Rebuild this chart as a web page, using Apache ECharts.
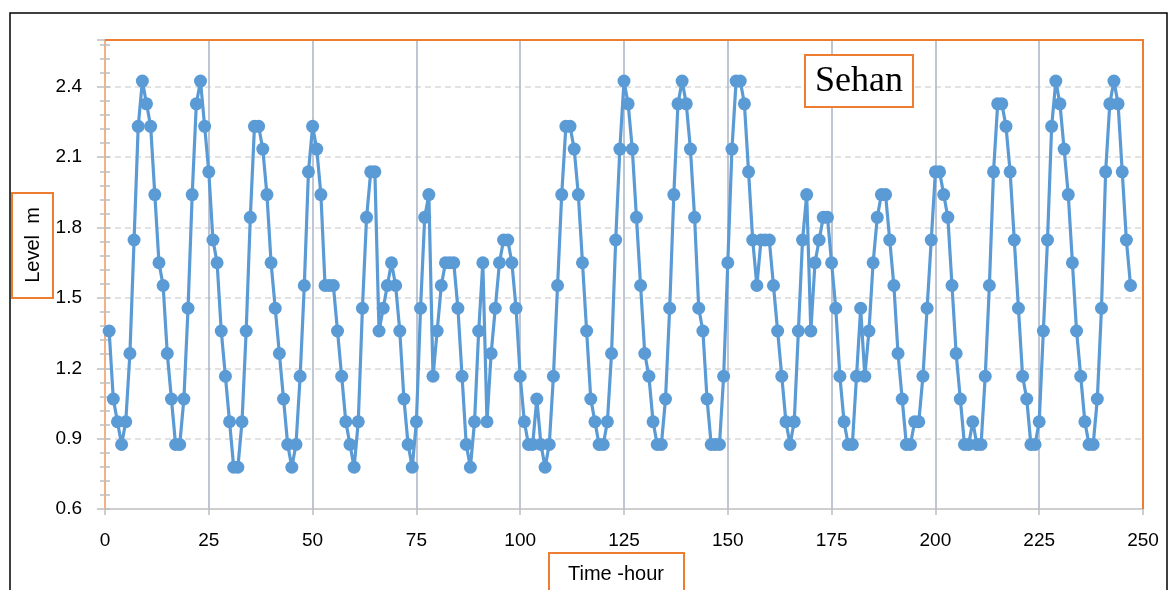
<!DOCTYPE html>
<html>
<head>
<meta charset="utf-8">
<script src="https://cdn.jsdelivr.net/npm/echarts@6/dist/echarts.min.js"></script>
<style>
html,body{margin:0;padding:0;background:#fff;}
#c{width:1176px;height:590px;}
</style>
</head>
<body>
<div id="c"></div>
<script>
// ---- data ----
var titleText = 'Sehan';
var xName = 'Time -hour';
var yName = 'Level  m';
var startHour = 1;            // first sample hour
var xTicks = [0, 25, 50, 75, 100, 125, 150, 175, 200, 225, 250];
var yTicks = [0.6, 0.9, 1.2, 1.5, 1.8, 2.1, 2.4];
// hourly water level (m), hours 1..247
var levels = [
  1.359, 1.069, 0.972, 0.875, 0.972, 1.263, 1.747, 2.232, 2.425, 2.328,
  2.232, 1.941, 1.650, 1.553, 1.263, 1.069, 0.875, 0.875, 1.069, 1.456,
  1.941, 2.328, 2.425, 2.232, 2.038, 1.747, 1.650, 1.359, 1.166, 0.972,
  0.778, 0.778, 0.972, 1.359, 1.844, 2.232, 2.232, 2.135, 1.941, 1.650,
  1.456, 1.263, 1.069, 0.875, 0.778, 0.875, 1.166, 1.553, 2.038, 2.232,
  2.135, 1.941, 1.553, 1.553, 1.553, 1.359, 1.166, 0.972, 0.875, 0.778,
  0.972, 1.456, 1.844, 2.038, 2.038, 1.359, 1.456, 1.553, 1.650, 1.553,
  1.359, 1.069, 0.875, 0.778, 0.972, 1.456, 1.844, 1.941, 1.166, 1.359,
  1.553, 1.650, 1.650, 1.650, 1.456, 1.166, 0.875, 0.778, 0.972, 1.359,
  1.650, 0.972, 1.263, 1.456, 1.650, 1.747, 1.747, 1.650, 1.456, 1.166,
  0.972, 0.875, 0.875, 1.069, 0.875, 0.778, 0.875, 1.166, 1.553, 1.941,
  2.232, 2.232, 2.135, 1.941, 1.650, 1.359, 1.069, 0.972, 0.875, 0.875,
  0.972, 1.263, 1.747, 2.135, 2.425, 2.328, 2.135, 1.844, 1.553, 1.263,
  1.166, 0.972, 0.875, 0.875, 1.069, 1.456, 1.941, 2.328, 2.425, 2.328,
  2.135, 1.844, 1.456, 1.359, 1.069, 0.875, 0.875, 0.875, 1.166, 1.650,
  2.135, 2.425, 2.425, 2.328, 2.038, 1.747, 1.553, 1.747, 1.747, 1.747,
  1.553, 1.359, 1.166, 0.972, 0.875, 0.972, 1.359, 1.747, 1.941, 1.359,
  1.650, 1.747, 1.844, 1.844, 1.650, 1.456, 1.166, 0.972, 0.875, 0.875,
  1.166, 1.456, 1.166, 1.359, 1.650, 1.844, 1.941, 1.941, 1.747, 1.553,
  1.263, 1.069, 0.875, 0.875, 0.972, 0.972, 1.166, 1.456, 1.747, 2.038,
  2.038, 1.941, 1.844, 1.553, 1.263, 1.069, 0.875, 0.875, 0.972, 0.875,
  0.875, 1.166, 1.553, 2.038, 2.328, 2.328, 2.232, 2.038, 1.747, 1.456,
  1.166, 1.069, 0.875, 0.875, 0.972, 1.359, 1.747, 2.232, 2.425, 2.328,
  2.135, 1.941, 1.650, 1.359, 1.166, 0.972, 0.875, 0.875, 1.069, 1.456,
  2.038, 2.328, 2.425, 2.328, 2.038, 1.747, 1.553
];

// ---- build ----
var seriesData = levels.map(function (v, i) { return [startHour + i, v]; });
var xMin = xTicks[0], xMax = xTicks[xTicks.length - 1], xStep = xTicks[1] - xTicks[0];
var yMin = yTicks[0], yStep = yTicks[1] - yTicks[0];
var yMax = 2.6;

var chart = echarts.init(document.getElementById('c'), null, {renderer: 'canvas'});
var labelFont = {fontFamily: 'Liberation Sans, Arial, sans-serif', fontSize: 19, color: '#000'};
var gridL = 105, gridR = 33, gridT = 40, gridB = 81;

var option = {
  animation: false,
  backgroundColor: '#fff',
  grid: {left: gridL, right: gridR, top: gridT, bottom: gridB, containLabel: false,
         show: false},
  xAxis: {
    type: 'value', min: xMin, max: xMax, interval: xStep,
    axisLine: {show: true, onZero: false, lineStyle: {color: '#bfbfbf', width: 1.5}},
    axisTick: {show: true, length: 6, lineStyle: {color: '#bfbfbf', width: 1.5}},
    axisLabel: Object.assign({margin: 22, formatter: function (v) { return String(v); }}, labelFont),
    splitLine: {show: true, showMinLine: false, showMaxLine: false,
                lineStyle: {color: '#a9b3c6', width: 1.5, type: 'solid'}}
  },
  yAxis: [{
    type: 'value', min: yMin, max: yMax, interval: yStep,
    axisLine: {show: true, lineStyle: {color: '#f4b183', width: 2}},
    axisTick: {show: true, length: 8, lineStyle: {color: '#bfbfbf', width: 1.5}},
    minorTick: {show: true, splitNumber: 5, length: 5, lineStyle: {color: '#bfbfbf', width: 1.5}},
    axisLabel: Object.assign({margin: 23, showMaxLabel: false,
      formatter: function (v) { return Math.abs(v - yMax) < 1e-9 ? '' : v.toFixed(1); }}, labelFont),
    splitLine: {show: true, showMinLine: false, showMaxLine: false,
                lineStyle: {color: '#d9d9d9', width: 1.5, type: [6, 4]}}
  }, {
    type: 'value', min: yMin, max: yMax, interval: yStep, position: 'left',
    axisLine: {show: false},
    axisTick: {show: true, inside: true, length: 5, lineStyle: {color: '#bfbfbf', width: 1.5}},
    minorTick: {show: true, splitNumber: 5, length: 5, lineStyle: {color: '#bfbfbf', width: 1.5}},
    axisLabel: {show: false},
    splitLine: {show: false}
  }],
  series: [{
    type: 'line', data: seriesData, xAxisIndex: 0, yAxisIndex: 0,
    symbol: 'circle', symbolSize: 13, showAllSymbol: true,
    lineStyle: {color: '#5b9bd5', width: 3.2},
    itemStyle: {color: '#5b9bd5'},
    z: 5
  }],
  graphic: {
    z: 100,
    elements: [
      {type: 'rect', shape: {x: 10, y: 13, width: 1157, height: 600},
       style: {fill: 'none', stroke: '#000', lineWidth: 1.5}, z: 0, silent: true},
      // plot-area border (top and right edges, orange)
      {type: 'polyline', shape: {points: [[105, 40], [1143, 40], [1143, 509]]},
       style: {fill: 'none', stroke: '#ed7d31', lineWidth: 2}, z: 1, silent: true},
      {type: 'rect', shape: {x: 805, y: 55, width: 108, height: 52}, z: 50,
       style: {fill: '#fff', stroke: '#ed7d31', lineWidth: 2}},
      {type: 'text', x: 859, y: 82, z: 51, style: {text: titleText, fill: '#000',
        font: '36px "Liberation Serif", "Times New Roman", serif',
        textAlign: 'center', textVerticalAlign: 'middle'}},
      {type: 'rect', shape: {x: 12, y: 193, width: 41, height: 105}, z: 50,
       style: {fill: '#fff', stroke: '#ed7d31', lineWidth: 2}},
      {type: 'text', x: 33, y: 245, rotation: Math.PI / 2, z: 51, style: {text: yName, fill: '#000',
        font: '20px "Liberation Sans", Arial, sans-serif',
        textAlign: 'center', textVerticalAlign: 'middle'}},
      {type: 'rect', shape: {x: 549, y: 553, width: 135, height: 45}, z: 50,
       style: {fill: '#fff', stroke: '#ed7d31', lineWidth: 2}},
      {type: 'text', x: 616, y: 574, z: 51, style: {text: xName, fill: '#000',
        font: '20px "Liberation Sans", Arial, sans-serif',
        textAlign: 'center', textVerticalAlign: 'middle'}}
    ]
  }
};
chart.setOption(option);
</script>
</body>
</html>
